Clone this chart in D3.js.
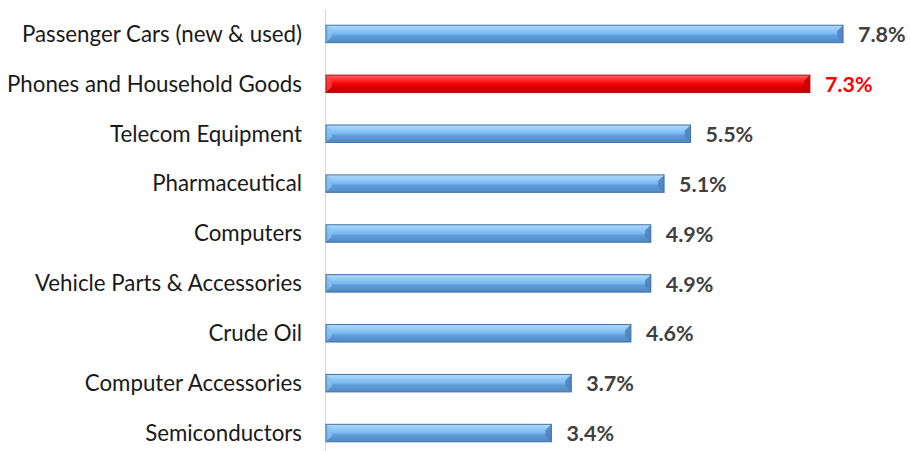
<!DOCTYPE html>
<html>
<head>
<meta charset="utf-8">
<script src="https://cdn.jsdelivr.net/npm/d3@7"></script>
<style>
  html, body { margin: 0; padding: 0; background: #ffffff; }
  svg { display: block; }
</style>
</head>
<body>
<svg id="chart" width="910" height="451"></svg>
<script>
// Share of the category, percent
const categories = [
  "Passenger Cars (new & used)",
  "Phones and Household Goods",
  "Telecom Equipment",
  "Pharmaceutical",
  "Computers",
  "Vehicle Parts & Accessories",
  "Crude Oil",
  "Computer Accessories",
  "Semiconductors"
];
const values = [7.8, 7.3, 5.5, 5.1, 4.9, 4.9, 4.6, 3.7, 3.4];
const valueLabels = ["7.8%", "7.3%", "5.5%", "5.1%", "4.9%", "4.9%", "4.6%", "3.7%", "3.4%"];
const highlighted = ["Phones and Household Goods"];

const svg = d3.select("#chart");
const W = 910, H = 451;

const x = d3.scaleLinear().domain([0, 8]).range([326, 856.3]);
const y = d3.scaleBand().domain(categories).range([9, 458])
  .paddingInner(0.65).paddingOuter(0.325);

const defs = svg.append("defs");
function gradient(id, stops) {
  const g = defs.append("linearGradient").attr("id", id)
    .attr("x1", 0).attr("y1", 0).attr("x2", 0).attr("y2", 1);
  stops.forEach(([o, c]) => g.append("stop").attr("offset", o).attr("stop-color", c));
}
gradient("gBlue", [[0, "#b2dafb"], [0.25, "#94cbf7"], [0.5, "#76b7f0"], [0.6, "#609ed9"], [1, "#5088c2"]]);
gradient("gRed", [[0, "#ff6a6a"], [0.25, "#ff3030"], [0.5, "#ff0000"], [0.6, "#e00000"], [1, "#b80000"]]);

const palette = {
  blue: { fill: "url(#gBlue)", stroke: "#4272a6", end: "#4f84bd", start: "#86c0f2" },
  red:  { fill: "url(#gRed)",  stroke: "#b01010", end: "#c40000", start: "#ff4040" }
};

// category axis line
svg.append("line")
  .attr("x1", x(0) - 0.5).attr("x2", x(0) - 0.5)
  .attr("y1", 10).attr("y2", H)
  .attr("stroke", "#d9d9d9").attr("stroke-width", 1.2);

const rows = svg.append("g").selectAll("g")
  .data(categories.map((c, i) => ({ c, v: values[i], label: valueLabels[i], hi: highlighted.includes(c) })))
  .join("g");

rows.each(function (d) {
  const g = d3.select(this);
  const p = d.hi ? palette.red : palette.blue;
  const x0 = x(0), x1 = x(d.v), y0 = y(d.c), h = y.bandwidth(), b = Math.min(6, h / 3);
  g.append("rect")
    .attr("x", x0).attr("y", y0).attr("width", x1 - x0).attr("height", h)
    .attr("fill", p.fill);
  // bevelled ends
  g.append("polygon")
    .attr("points", [[x0, y0], [x0 + b, y0 + b], [x0 + b, y0 + h - b], [x0, y0 + h]].join(" "))
    .attr("fill", p.start).attr("opacity", 0.8);
  g.append("polygon")
    .attr("points", [[x1, y0], [x1 - b, y0 + b], [x1 - b, y0 + h - b], [x1, y0 + h]].join(" "))
    .attr("fill", p.end).attr("opacity", 0.9);
  g.append("rect")
    .attr("x", x0).attr("y", y0).attr("width", x1 - x0).attr("height", h)
    .attr("fill", "none").attr("stroke", p.stroke).attr("stroke-width", 1);

  g.append("text")
    .attr("x", 302).attr("y", y0 + h / 2)
    .attr("dy", "0.35em").attr("text-anchor", "end")
    .attr("font-family", "Lato, 'Open Sans', sans-serif")
    .attr("font-size", 22.3).attr("fill", "#1a1a1a")
    .text(d.c);

  g.append("text")
    .attr("x", x1 + 15).attr("y", y0 + h / 2)
    .attr("dy", "0.38em")
    .attr("font-family", "Lato, 'Open Sans', sans-serif")
    .attr("font-weight", "bold")
    .attr("font-size", 21.5)
    .attr("fill", d.hi ? "#ff0000" : "#404040")
    .text(d.label);
});
</script>
</body>
</html>
